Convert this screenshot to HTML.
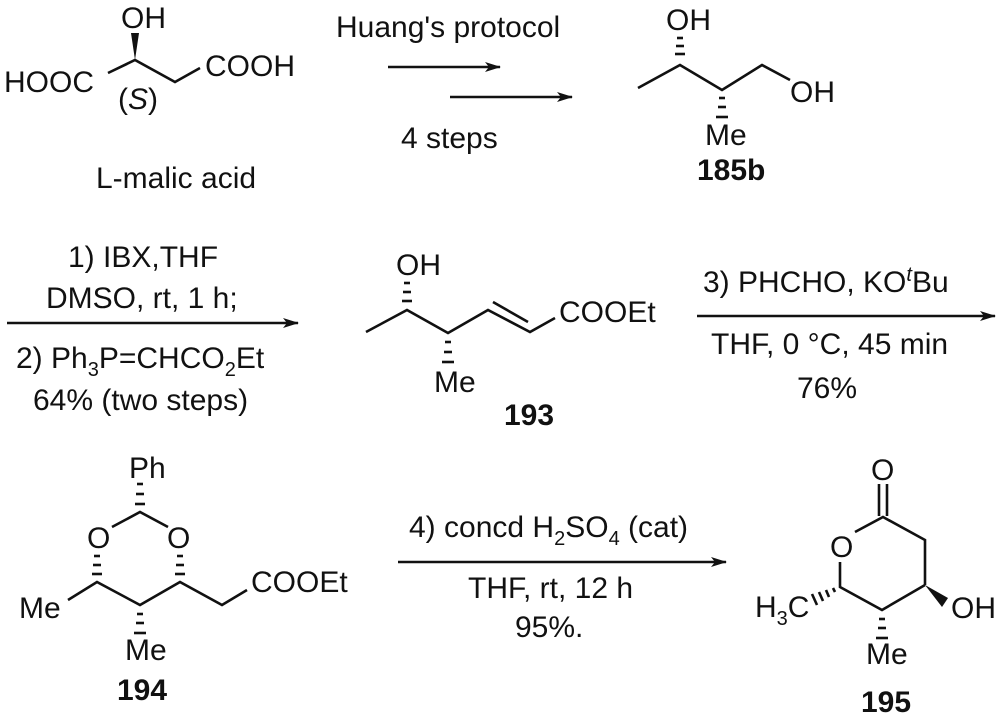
<!DOCTYPE html>
<html><head><meta charset="utf-8"><style>
html,body{margin:0;padding:0;background:#fff}
svg{display:block}
text{font-family:"Liberation Sans",Arial,sans-serif;font-size:30px;fill:#111}
.b{font-weight:bold}
line,polyline{stroke:#111;stroke-width:2.6;fill:none}
.h{stroke-width:2.6}
</style></head><body>
<svg width="1000" height="726" viewBox="0 0 1000 726" xmlns="http://www.w3.org/2000/svg">
<defs><marker id="a" markerWidth="16" markerHeight="10" refX="15" refY="5" orient="auto" markerUnits="userSpaceOnUse"><path d="M0,0 L16,5 L0,10 L4,5z" fill="#111"/></marker></defs>

<!-- L-malic acid -->
<text x="4" y="92">HOOC</text>
<polyline points="108,73 135,60 175,82 200,68"/>
<polygon points="135,60 131,33 139,33" fill="#111"/>
<text x="121" y="28">OH</text>
<text x="205" y="76">COOH</text>
<text x="118" y="109">(<tspan font-style="italic">S</tspan>)</text>
<text x="96" y="188">L-malic acid</text>

<!-- arrows 1 -->
<text x="336" y="37">Huang's protocol</text>
<line x1="388" y1="67" x2="500" y2="67" marker-end="url(#a)"/>
<line x1="450" y1="97" x2="572" y2="97" marker-end="url(#a)"/>
<text x="401" y="148">4 steps</text>

<!-- 185b -->
<text x="666" y="30">OH</text>
<g class="h"><line x1="677" y1="38" x2="683" y2="38"/><line x1="676" y1="46" x2="684" y2="46"/><line x1="675" y1="54" x2="685" y2="54"/></g>
<polyline points="638,88 680,65 722,90 762,65 790,80"/>
<text x="790" y="102">OH</text>
<g class="h"><line x1="719" y1="98" x2="725" y2="98"/><line x1="718" y1="107" x2="726" y2="107"/><line x1="716" y1="117" x2="728" y2="117"/></g>
<text x="705" y="145">Me</text>
<text x="697" y="180" class="b">185b</text>

<!-- arrow 2 -->
<text x="68" y="267">1) IBX,THF</text>
<text x="46" y="308">DMSO, rt, 1 h;</text>
<line x1="7" y1="323" x2="298" y2="323" marker-end="url(#a)"/>
<text x="16" y="368">2) Ph<tspan font-size="20" dy="8">3</tspan><tspan dy="-8">P=CHCO</tspan><tspan font-size="20" dy="8">2</tspan><tspan dy="-8">Et</tspan></text>
<text x="33" y="410">64% (two steps)</text>

<!-- 193 -->
<text x="396" y="275">OH</text>
<g class="h"><line x1="404" y1="283" x2="410" y2="283"/><line x1="403" y1="292" x2="411" y2="292"/><line x1="402" y1="301" x2="412" y2="301"/></g>
<polyline points="366,332 407,310 448,333 488,310 530,332 555,318"/>
<line x1="493" y1="302" x2="528" y2="322"/>
<g class="h"><line x1="445" y1="342" x2="451" y2="342"/><line x1="444" y1="352" x2="452" y2="352"/><line x1="442" y1="362" x2="454" y2="362"/></g>
<text x="434" y="392">Me</text>
<text x="559" y="322">COOEt</text>
<text x="504" y="425" class="b">193</text>

<!-- arrow 3 -->
<text x="703" y="292">3) PHCHO, KO<tspan font-size="20" font-style="italic" dy="-11">t</tspan><tspan dy="11">Bu</tspan></text>
<line x1="697" y1="316" x2="995" y2="316" marker-end="url(#a)"/>
<text x="711" y="354">THF, 0 °C, 45 min</text>
<text x="797" y="398">76%</text>

<!-- 194 -->
<text x="129" y="478">Ph</text>
<g class="h"><line x1="137" y1="484" x2="143" y2="484"/><line x1="136" y1="494" x2="144" y2="494"/><line x1="135" y1="504" x2="145" y2="504"/></g>
<polyline points="112,527 140,512 168,527"/>
<text x="87" y="548">O</text>
<text x="167" y="548">O</text>
<g class="h"><line x1="94" y1="556" x2="100" y2="556"/><line x1="93" y1="565" x2="101" y2="565"/><line x1="92" y1="574" x2="102" y2="574"/></g>
<g class="h"><line x1="177" y1="556" x2="183" y2="556"/><line x1="176" y1="565" x2="184" y2="565"/><line x1="175" y1="574" x2="185" y2="574"/></g>
<polyline points="68,600 97,582 140,605 180,582 222,605 247,590"/>
<text x="251" y="592">COOEt</text>
<text x="19" y="618">Me</text>
<g class="h"><line x1="137" y1="614" x2="143" y2="614"/><line x1="136" y1="623" x2="144" y2="623"/><line x1="134" y1="633" x2="146" y2="633"/></g>
<text x="125" y="660">Me</text>
<text x="117" y="700" class="b">194</text>

<!-- arrow 4 -->
<text x="409" y="537">4) concd H<tspan font-size="20" dy="8">2</tspan><tspan dy="-8">SO</tspan><tspan font-size="20" dy="8">4</tspan><tspan dy="-8"> (cat)</tspan></text>
<line x1="398" y1="562" x2="726" y2="562" marker-end="url(#a)"/>
<text x="468" y="598">THF, rt, 12 h</text>
<text x="515" y="637">95%.</text>

<!-- 195 -->
<text x="871" y="480">O</text>
<line x1="879" y1="484" x2="879" y2="516"/>
<line x1="887" y1="484" x2="887" y2="516"/>
<polyline points="855,532 883,517 925,540 925,585"/>
<text x="830" y="557">O</text>
<polyline points="840,562 840,587 882,610 925,585"/>
<polygon points="925,585 948,598 942,607" fill="#111"/>
<text x="951" y="618">OH</text>
<g class="h"><line x1="833" y1="588" x2="835" y2="592"/><line x1="826" y1="590" x2="829" y2="597"/><line x1="819" y1="592" x2="823" y2="601"/><line x1="812" y1="594" x2="817" y2="605"/></g>
<text x="755" y="617">H<tspan font-size="20" dy="8">3</tspan><tspan dy="-8">C</tspan></text>
<g class="h"><line x1="879" y1="619" x2="885" y2="619"/><line x1="878" y1="628" x2="886" y2="628"/><line x1="876" y1="638" x2="888" y2="638"/></g>
<text x="866" y="664">Me</text>
<text x="861" y="712" class="b">195</text>
</svg>
</body></html>
